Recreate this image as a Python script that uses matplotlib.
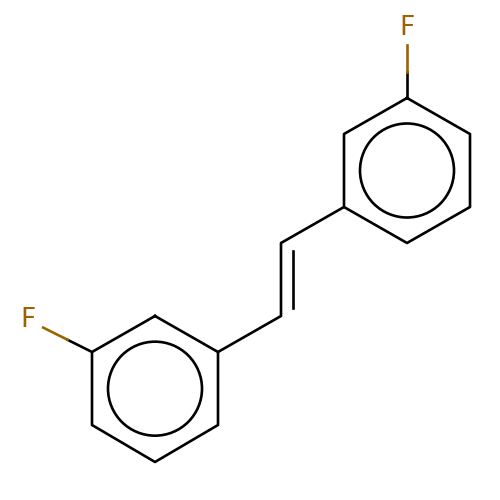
import numpy as np
import matplotlib.pyplot as plt

# atom positions (pixel space of the original depiction)
ring1_x = [407, 470, 470, 407, 344, 344]
ring1_y = [98, 134, 207, 243, 207, 134]
ring2_x = [155, 218, 218, 155, 92, 92]
ring2_y = [316, 352, 425, 462, 425, 352]
vinyl_x = [344, 281, 281, 218]
vinyl_y = [207, 243, 316, 352]
f_labels = ["F", "F"]
f_x = [407, 28]
f_y = [28, 320]
f_bond_from = [(407, 98), (92, 352)]

black = "black"
fcol = "#9C6400"
lw = 1.9

fig = plt.figure(figsize=(5, 5), dpi=100)
ax = fig.add_axes([0, 0, 1, 1])
ax.set_xlim(0, 500)
ax.set_ylim(500, 0)
ax.axis("off")

for rx, ry in [(ring1_x, ring1_y), (ring2_x, ring2_y)]:
    ax.plot(rx + rx[:1], ry + ry[:1], color=black, lw=lw, solid_joinstyle="round")
    cx, cy = np.mean(rx), np.mean(ry)
    ax.add_patch(plt.Circle((cx, cy), 47, fill=False, color=black, lw=lw))

ax.plot(vinyl_x, vinyl_y, color=black, lw=lw, solid_joinstyle="round")
# inner line of the double bond
ax.plot([vinyl_x[1] + 12, vinyl_x[2] + 12], [vinyl_y[1] + 8, vinyl_y[2] - 8], color=black, lw=lw)

for lab, x, y, (bx, by) in zip(f_labels, f_x, f_y, f_bond_from):
    d = np.array([x - bx, y - by], float)
    L = np.hypot(*d)
    u = d / L
    end = np.array([bx, by]) + u * (L - 17)
    mid = (np.array([bx, by]) + end) / 2
    ax.plot([bx, mid[0]], [by, mid[1]], color=black, lw=lw)
    ax.plot([mid[0], end[0]], [mid[1], end[1]], color=fcol, lw=lw)
    ax.text(x, y, lab, color=fcol, fontsize=19, ha="center", va="center")

fig.savefig("out.png", dpi=100)
